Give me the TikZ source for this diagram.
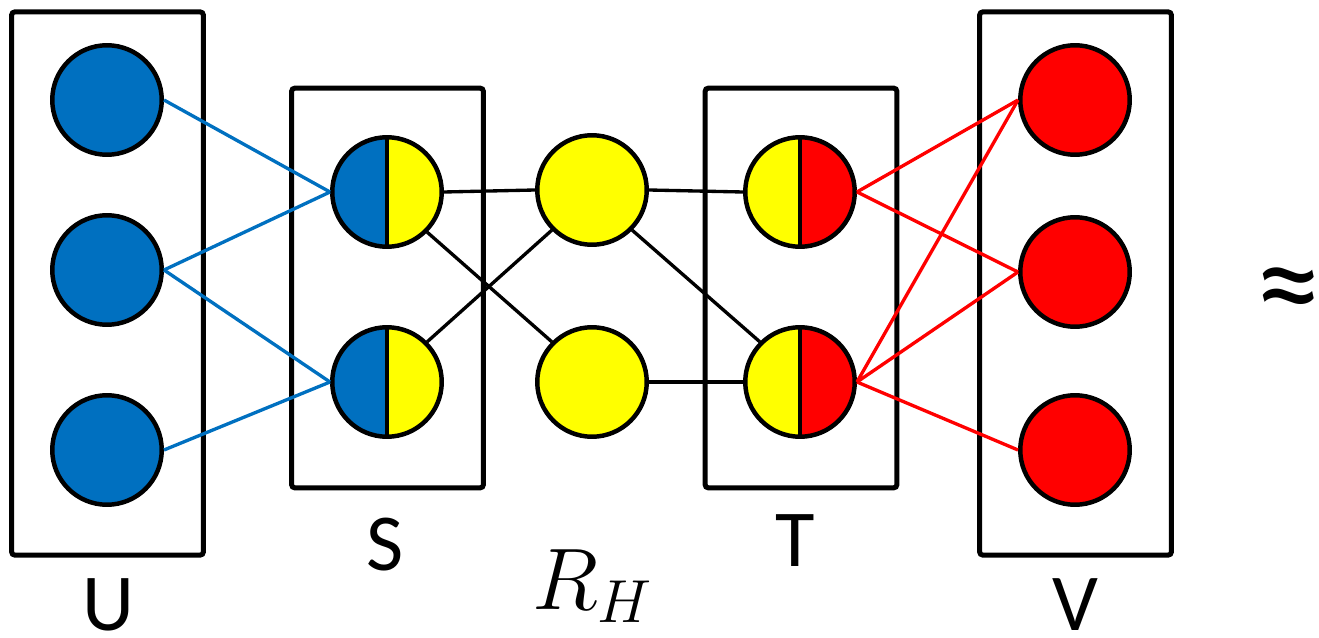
\documentclass[tikz,border=0pt]{standalone}
\usepackage{fontspec}
\setmainfont{Carlito}
\usepackage{tikz}
\usetikzlibrary{positioning}
\definecolor{pblue}{HTML}{0070C0}
\definecolor{pyellow}{HTML}{FFFF00}
\definecolor{pred}{HTML}{FF0000}

\begin{document}
\begin{tikzpicture}[x=0.02cm,y=-0.02cm]
\tikzset{grp/.style={draw=black,line width=2.85pt,rounded corners=2pt,inner sep=0pt,minimum width=3.84cm},
  full/.style={circle,draw=black,line width=2.55pt,fill=#1,minimum size=2.19cm,inner sep=0pt},
  half/.style 2 args={circle,draw=black,line width=2.55pt,fill=#1,minimum size=2.19cm,inner sep=0pt,
    path picture={\fill[#2] (path picture bounding box.north) rectangle (path picture bounding box.south east);
      \draw[line width=2.55pt] (path picture bounding box.north)--(path picture bounding box.south);}},
  lbl/.style={font=\fontsize{23}{26}\selectfont,inner sep=0pt,scale=2},
  edge/.style={draw=#1,line width=1.9pt}}
\useasboundingbox (0,0) rectangle (1319,638);
% groups
\node[grp,minimum height=10.87cm] (boxU) at (107.5,283.5) {};
\node[grp,minimum height=8cm] (boxS) at (387.5,288) {};
\node[grp,minimum height=8cm] (boxT) at (801,288) {};
\node[grp,minimum height=10.87cm] (boxV) at (1075.5,283.5) {};
% nodes
\node[full=pblue] (u1) at (107,100) {};
\node[full=pblue] (u2) at (107,270) {};
\node[full=pblue] (u3) at (107,450) {};
\node[half={pblue}{pyellow}] (s1) at (387,192) {};
\node[half={pblue}{pyellow}] (s2) at (387,382) {};
\node[full=pyellow] (m1) at (592,190) {};
\node[full=pyellow] (m2) at (592,382) {};
\node[half={pyellow}{pred}] (t1) at (800,192) {};
\node[half={pyellow}{pred}] (t2) at (800,382) {};
\node[full=pred] (v1) at (1075,100) {};
\node[full=pred] (v2) at (1075,272) {};
\node[full=pred] (v3) at (1075,450) {};
% edges
\draw[edge=pblue] (u1.east)--(s1.west);
\draw[edge=pblue] (u2.east)--(s1.west);
\draw[edge=pblue] (u2.east)--(s2.west);
\draw[edge=pblue] (u3.east)--(s2.west);
\draw[edge=black] (s1.east)--(m1.west);
\draw[edge=black] (s1.south east)--(m2.north west);
\draw[edge=black] (s2.north east)--(m1.south west);
\draw[edge=black] (m1.east)--(t1.west);
\draw[edge=black] (m1.south east)--(t2.north west);
\draw[edge=black] (m2.east)--(t2.west);
\draw[edge=pred] (t1.east)--(v1.west);
\draw[edge=pred] (t1.east)--(v2.west);
\draw[edge=pred] (t2.east)--(v1.west);
\draw[edge=pred] (t2.east)--(v2.west);
\draw[edge=pred] (t2.east)--(v3.west);
% labels
\node[lbl] (labU) at (108,605) {U};
\node[lbl] (labS) at (385,545) {S};
\node[lbl] (labR) at (593,586) {$R_H$};
\node[lbl] (labT) at (795,541) {T};
\node[lbl] (labV) at (1075,605) {V};
\node[lbl,scale=1.65] (approx) at (1289,298) {≈};
\end{tikzpicture}
\end{document}
